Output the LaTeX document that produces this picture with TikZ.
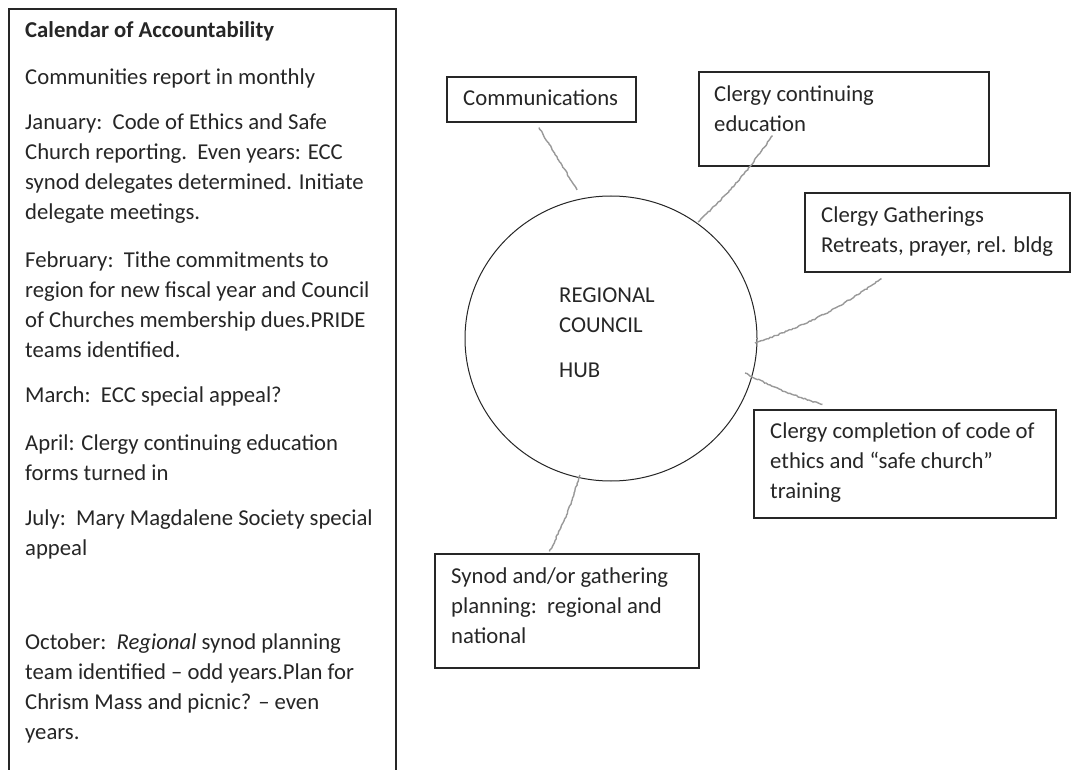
\documentclass[tikz,border=0pt]{standalone}
\usepackage{fontspec}
\setmainfont{Carlito}
\usetikzlibrary{shapes.geometric,calc,decorations.pathmorphing}
\newcommand{\mylines}[1]{\parbox[t]{420pt}{\raggedright #1}}
\begin{document}
\begin{tikzpicture}[x=1pt,y=-1pt,
  txt/.style={anchor=base west,inner sep=0pt,font=\fontsize{22.7}{30}\selectfont,text=black!85},
  boxnode/.style={draw=black!85,line width=1.1pt,rectangle,inner sep=0pt},
  conn/.style={draw=gray!80,line width=1.4pt,decorate,decoration={random steps,segment length=2pt,amplitude=0.6pt}}]
\useasboundingbox (0,0) rectangle (1071,770);
\fill[white] (0,0) rectangle (1071,770);
% left calendar box (open at bottom)
\draw[black!85,line width=1.1pt] (9,771) -- (9,9) -- (396,9) -- (396,771);
\node[txt,font=\fontsize{22.7}{30}\selectfont\bfseries] (t0) at (25,38) {Calendar of Accountability};
\node[txt] (t1) at (25,85) {Communities report in monthly};
\node[txt] (t2) at (25,130) {\mylines{January:\ \ Code of Ethics and Safe\\Church reporting.\ \ Even years: ECC\\synod delegates determined. Initiate\\delegate meetings.}};
\node[txt] (t3) at (25,267) {\mylines{February:\ \ Tithe commitments to\\region for new fiscal year and Council\\of Churches membership dues.PRIDE\\teams identified.}};
\node[txt] (t4) at (25,402) {March:\ \ ECC special appeal?};
\node[txt] (t5) at (25,450) {\mylines{April: Clergy continuing education\\forms turned in}};
\node[txt] (t6) at (25,525) {\mylines{July:\ \ Mary Magdalene Society special\\appeal}};
\node[txt] (t7) at (25,649) {\mylines{October:\ \ \textit{Regional} synod planning\\team identified – odd years.Plan for\\Chrism Mass and picnic? – even\\years.}};
% hub
\node[ellipse,draw=black!85,line width=1pt,minimum width=292pt,minimum height=285pt,inner sep=0pt] (hub) at (611,338.5) {};
\node[txt] (h1) at (559,302) {\mylines{REGIONAL\\COUNCIL}};
\node[txt] (h2) at (559,377) {HUB};
% boxes
\node[boxnode,minimum width=189pt,minimum height=45pt] (comm) at (541.5,99.5) {};
\node[txt] (commt) at (463,106) {Communications};
\node[boxnode,minimum width=290pt,minimum height=94pt] (cce) at (844,119) {};
\node[txt] (ccet) at (714,102) {\mylines{Clergy continuing\\education}};
\node[boxnode,minimum width=265pt,minimum height=79pt] (gath) at (937.5,232.5) {};
\node[txt] (gatht) at (821,223) {\mylines{Clergy Gatherings\\Retreats, prayer, rel. bldg}};
\node[boxnode,minimum width=302pt,minimum height=108pt] (compl) at (905,464) {};
\node[txt] (complt) at (770,438) {\mylines{Clergy completion of code of\\ethics and “safe church”\\training}};
\node[boxnode,minimum width=264pt,minimum height=114pt] (synod) at (567,611) {};
\node[txt] (synodt) at (451,583) {\mylines{Synod and/or gathering\\planning:\ \ regional and\\national}};
% connectors
\draw[conn] ($(comm.south)+(-2.5,5)$) -- ($(hub.center)+(-34,-148.5)$);
\draw[conn] ($(cce.south west)+(74,-31)$) to[bend left=6] ($(hub.center)+(87,-116.5)$);
\draw[conn] ($(gath.south west)+(77,6)$) to[bend left=8] ($(hub.center)+(144,4.5)$);
\draw[conn] ($(compl.north west)+(69,-5)$) to[bend left=5] ($(hub.center)+(134,34.5)$);
\draw[conn] ($(synod.north west)+(115,-2)$) to[bend right=5] ($(hub.center)+(-31,136.5)$);
\end{tikzpicture}
\end{document}
